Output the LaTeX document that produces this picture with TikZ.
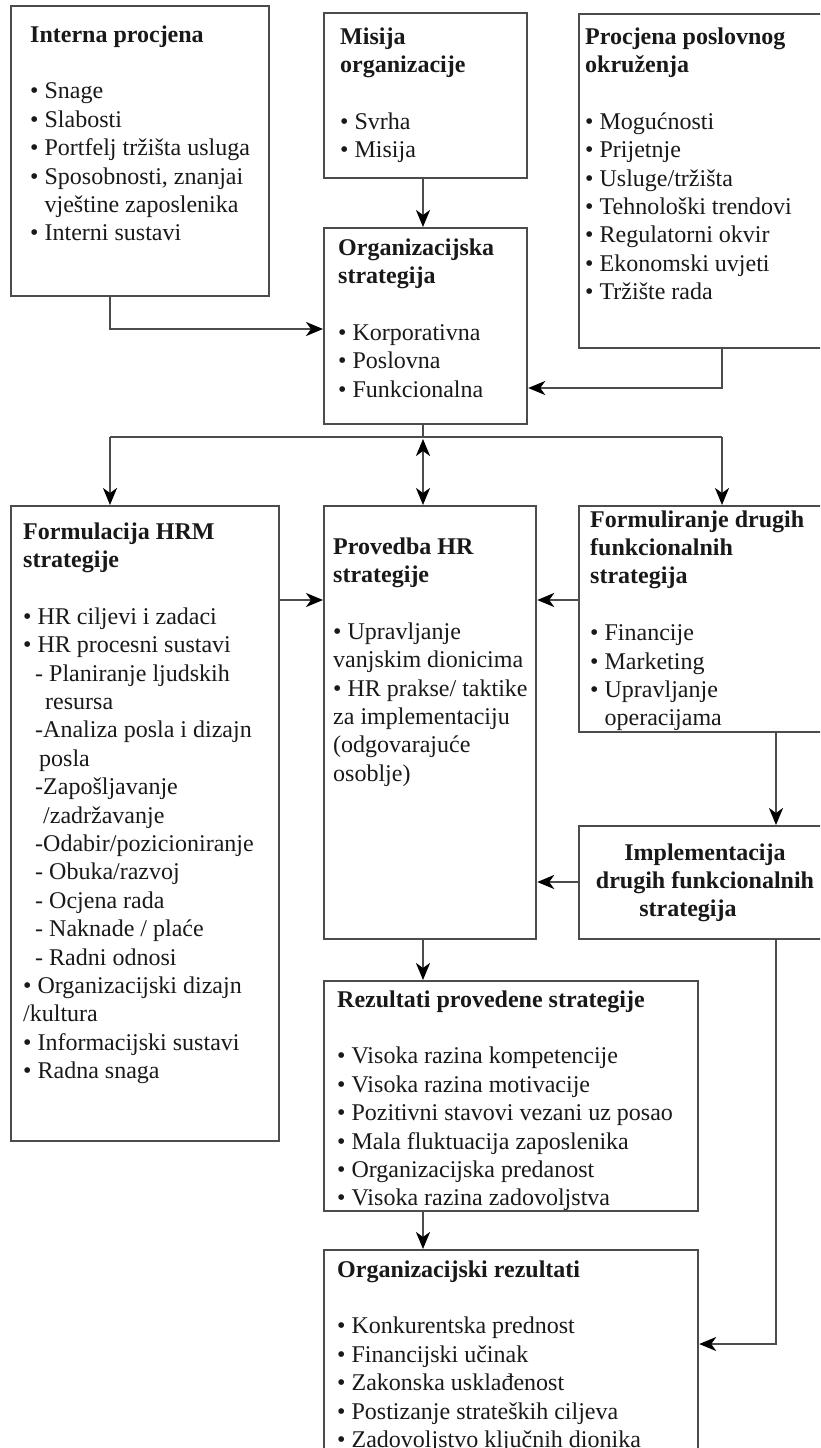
\documentclass[tikz,border=0pt]{standalone}
\usepackage{fontspec}
\setmainfont{Liberation Serif}
\usetikzlibrary{arrows.meta,calc}
\newcommand{\diafs}{\fontsize{24}{28.4}\selectfont}
\newcommand{\ind}{\phantom{• }}
\tikzset{
  box/.style={draw=black!70, line width=2.2pt, anchor=north west, inner sep=0pt, fill=none},
  txt/.style={anchor=north west, inner sep=0pt, align=left, font=\diafs, text=black!90},
  tip/.tip={Stealth[length=17pt,width=14pt,inset=5pt,fill=black,color=black]},
  arr/.style={draw=black!70, line width=2.2pt, -tip},
  darr/.style={draw=black!70, line width=2.2pt, tip-tip},
  ln/.style={draw=black!70, line width=2.2pt},
}
\begin{document}
\begin{tikzpicture}[x=1pt,y=-1pt]
\clip (0,0) rectangle (820,1448);
\fill[white] (0,0) rectangle (820,1448);

% boxes
\node[box, minimum width=258pt, minimum height=290pt] (ip) at (10,5) {};
\node[box, minimum width=203pt, minimum height=165pt] (mo) at (323,12) {};
\node[box, minimum width=203pt, minimum height=196pt] (os) at (323,227) {};
\node[box, minimum width=250pt, minimum height=334pt] (pe) at (578,13) {};
\node[box, minimum width=268pt, minimum height=635pt] (hrm) at (10,505) {};
\node[box, minimum width=212pt, minimum height=433pt] (pr) at (323,505) {};
\node[box, minimum width=250pt, minimum height=226pt] (fd) at (578,505) {};
\node[box, minimum width=250pt, minimum height=113pt] (im) at (578,825) {};
\node[box, minimum width=374pt, minimum height=230pt] (rz) at (323,980) {};
\node[box, minimum width=374pt, minimum height=260pt] (orz) at (323,1249) {};

% texts
\node[txt] (tip) at (30,22) {\strut\textbf{Interna procjena}\\[28.4pt]
• Snage\\• Slabosti\\• Portfelj tržišta usluga\\• Sposobnosti, znanjai\\\ind vještine zaposlenika\\• Interni sustavi};

\node[txt] (tmo) at (340,24) {\strut\textbf{Misija}\\\textbf{organizacije}\\[28.4pt]
• Svrha\\• Misija};

\node[txt] (tos) at (338,235) {\strut\textbf{Organizacijska}\\\textbf{strategija}\\[28.4pt]
• Korporativna\\• Poslovna\\• Funkcionalna};

\node[txt] (tpe) at (585,24) {\strut\textbf{Procjena poslovnog}\\\textbf{okruženja}\\[28.4pt]
• Mogućnosti\\• Prijetnje\\• Usluge/tržišta\\• Tehnološki trendovi\\• Regulatorni okvir\\• Ekonomski uvjeti\\• Tržište rada};

\node[txt] (thrm) at (23,519) {\strut\textbf{Formulacija HRM}\\\textbf{strategije}\\[28.4pt]
• HR ciljevi i zadaci\\• HR procesni sustavi\\
\hspace*{12pt}- Planiranje ljudskih\\\hspace*{22pt}resursa\\
\hspace*{12pt}-Analiza posla i dizajn\\\hspace*{16pt}posla\\
\hspace*{12pt}-Zapošljavanje\\\hspace*{20pt}/zadržavanje\\
\hspace*{12pt}-Odabir/pozicioniranje\\
\hspace*{12pt}- Obuka/razvoj\\\hspace*{12pt}- Ocjena rada\\\hspace*{12pt}- Naknade / plaće\\\hspace*{12pt}- Radni odnosi\\
• Organizacijski dizajn\\/kultura\\• Informacijski sustavi\\• Radna snaga};

\node[txt] (tpr) at (333,534) {\strut\textbf{Provedba HR}\\\textbf{strategije}\\[28.4pt]
• Upravljanje\\vanjskim dionicima\\• HR prakse/ taktike\\za implementaciju\\(odgovarajuće\\osoblje)};

\node[txt] (tfd) at (590,507) {\strut\textbf{Formuliranje drugih}\\\textbf{funkcionalnih}\\\textbf{strategija}\\[28.4pt]
• Financije\\• Marketing\\• Upravljanje\\\ind operacijama};

\node[txt, anchor=north, align=center] (tim) at (705,840) {\strut\textbf{Implementacija}\\\textbf{drugih funkcionalnih}\\\textbf{strategija}\hspace*{34pt}};

\node[txt] (trz) at (337,987) {\strut\textbf{Rezultati provedene strategije}\\[28.4pt]
• Visoka razina kompetencije\\• Visoka razina motivacije\\• Pozitivni stavovi vezani uz posao\\• Mala fluktuacija zaposlenika\\• Organizacijska predanost\\• Visoka razina zadovoljstva};

\node[txt] (tor) at (337,1257) {\strut\textbf{Organizacijski rezultati}\\[28.4pt]
• Konkurentska prednost\\• Financijski učinak\\• Zakonska usklađenost\\• Postizanje strateških ciljeva\\• Zadovoljstvo ključnih dionika};

% helper coordinates
\coordinate (xl) at (110,329);
\coordinate (xr) at (722,388);
\coordinate (jn) at (423,437);
\coordinate (jl) at (110,437);
\coordinate (jr) at (722,437);
\coordinate (ym) at (0,600);
\coordinate (xi) at (776,882);
\coordinate (yo) at (0,1344);
\coordinate (jd) at (423,439);

% connectors
\draw[arr] (mo.south -| jn) -- (os.north -| jn);
\draw[arr] (ip.south -| xl) |- (os.west |- xl);
\draw[arr] (pe.south -| xr) |- (os.east |- xr);
\draw[ln] (os.south -| jn) -- (jn);
\draw[ln] (jl) -- (jr);
\draw[arr] (jl) -- (hrm.north -| jl);
\draw[arr] (jr) -- (fd.north -| jr);
\draw[darr] (jd) -- (pr.north -| jd);
\draw[arr] (hrm.east |- ym) -- (pr.west |- ym);
\draw[arr] (fd.west |- ym) -- (pr.east |- ym);
\draw[arr] (fd.south -| xi) -- (im.north -| xi);
\draw[arr] (im.west |- xi) -- (pr.east |- xi);
\draw[arr] (pr.south -| jn) -- (rz.north -| jn);
\draw[arr] (rz.south -| jn) -- (orz.north -| jn);
\draw[arr] (im.south -| xi) |- (orz.east |- yo);
\end{tikzpicture}
\end{document}
